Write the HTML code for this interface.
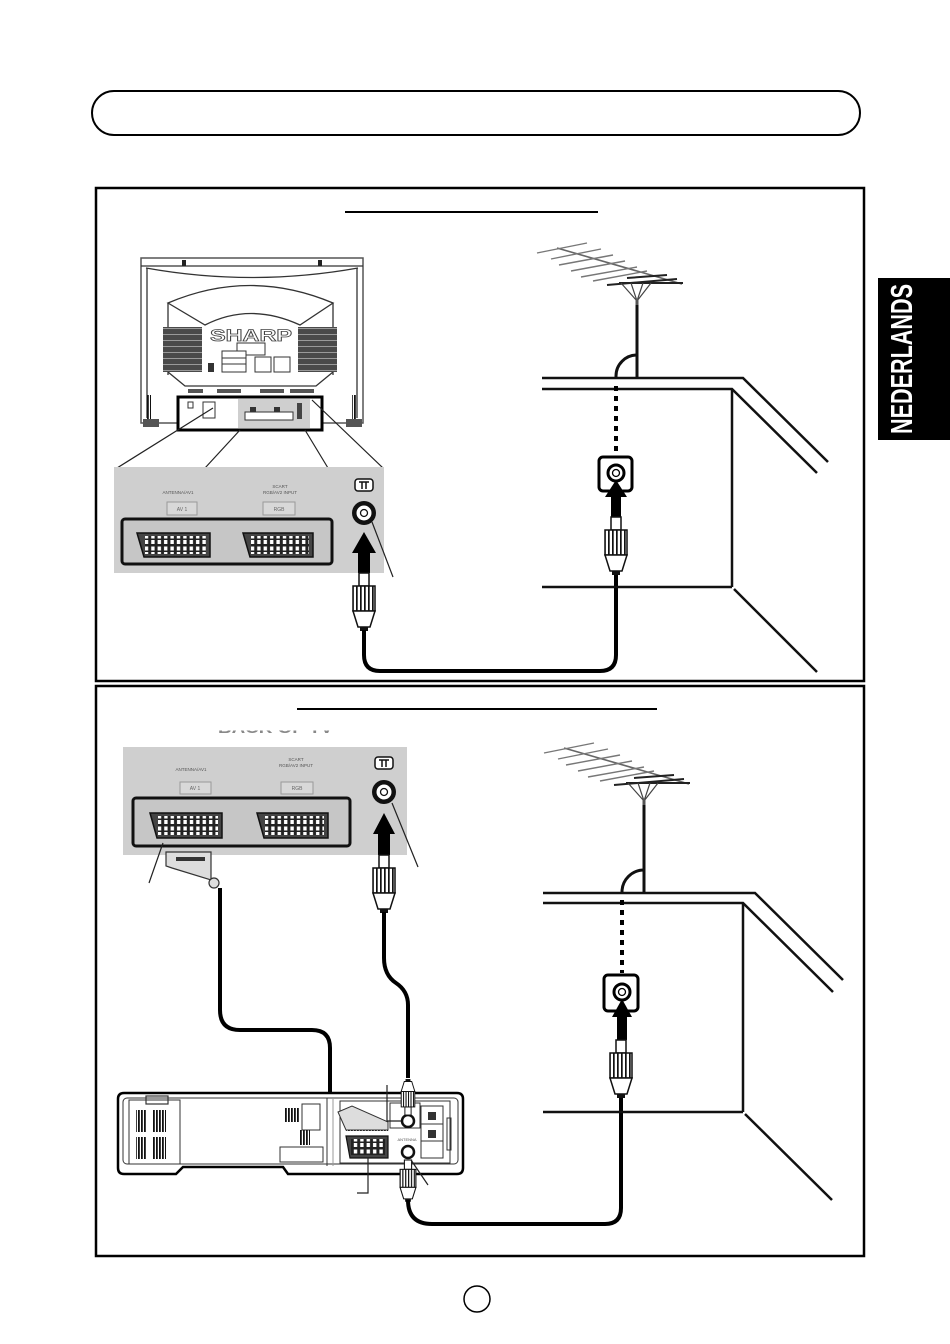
<!DOCTYPE html>
<html><head><meta charset="utf-8"><style>
html,body{margin:0;padding:0;background:#fff;}
svg{display:block;}
text{font-family:"Liberation Sans",sans-serif;}
</style></head><body>
<svg width="950" height="1344" viewBox="0 0 950 1344" xmlns="http://www.w3.org/2000/svg">
<defs>
<pattern id="pins" x="0" y="0" width="6.4" height="12" patternUnits="userSpaceOnUse"><rect width="6.4" height="12" fill="#222"/><rect x="1.4" y="1.5" width="3.4" height="4" fill="#fff"/><rect x="1.4" y="7" width="3.4" height="4" fill="#fff"/></pattern>
<pattern id="knurl" width="4" height="4" patternUnits="userSpaceOnUse"><rect width="4" height="4" fill="#fff"/><rect width="1.7" height="4" fill="#111"/></pattern>
<pattern id="vbars" width="3" height="4" patternUnits="userSpaceOnUse"><rect width="1.8" height="4" fill="#111"/></pattern>
<pattern id="spk" width="4" height="6" patternUnits="userSpaceOnUse"><rect width="4" height="6" fill="#4a4a4a"/><rect y="4" width="4" height="1" fill="#9a9a9a"/></pattern>
<g id="plugUp">
 <rect x="-5" y="0" width="10" height="13" fill="#fff" stroke="#111" stroke-width="1.5"/>
 <rect x="-11" y="13" width="22" height="25" fill="url(#knurl)" stroke="#111" stroke-width="1.5"/>
 <polygon points="-11,38 11,38 6,54 -6,54" fill="#fff" stroke="#111" stroke-width="1.5"/>
 <rect x="-4" y="54" width="8" height="4" fill="#111"/>
</g>
<g id="jack">
 <circle r="12" fill="#111"/><circle r="7.5" fill="#fff"/><circle r="3.5" fill="none" stroke="#111" stroke-width="1.3"/>
</g>
<g id="antIcon">
 <rect x="-9" y="-6" width="18" height="12" rx="3" fill="#fff" stroke="#111" stroke-width="1.5"/>
 <path d="M-5,-3 L5,-3 M-2,-3 L-2,4 M2,-3 L2,4" stroke="#111" stroke-width="1.5" fill="none"/>
</g>
<g id="ant">
 <line x1="-80" y1="-57" x2="45" y2="-21" stroke="#666" stroke-width="1.6"/>
 <g stroke="#777" stroke-width="1.4">
  <line x1="-100" y1="-52" x2="-50" y2="-62"/>
  <line x1="-86" y1="-46" x2="-36" y2="-56"/>
  <line x1="-78" y1="-40" x2="-24" y2="-50"/>
  <line x1="-66" y1="-34" x2="-12" y2="-44"/>
  <line x1="-56" y1="-28" x2="0" y2="-38"/>
  <line x1="-44" y1="-24" x2="10" y2="-34"/>
 </g>
 <g stroke="#222" stroke-width="2">
  <line x1="-30" y1="-20" x2="40" y2="-26"/>
  <line x1="-18" y1="-22" x2="46" y2="-22"/>
  <line x1="-10" y1="-27" x2="30" y2="-30"/>
 </g>
 <path d="M-16,-22 L0,-4 M14,-22 L0,-4 M-6,-22 L0,-4 M6,-22 L0,-4" stroke="#444" stroke-width="1.2" fill="none"/>
 <line x1="0" y1="-6" x2="0" y2="6" stroke="#555" stroke-width="3"/>
</g>
</defs>

<!-- header -->
<rect x="92" y="91" width="768" height="44" rx="22" ry="22" fill="none" stroke="#000" stroke-width="2"/>

<!-- language tab -->
<rect x="878" y="278" width="72" height="162" fill="#000"/>
<text transform="translate(912,359) rotate(-90) scale(1,1.45)" text-anchor="middle" font-size="21" font-weight="bold" fill="#fff" textLength="150" lengthAdjust="spacingAndGlyphs">NEDERLANDS</text>

<!-- panels -->
<rect x="96" y="188" width="768" height="493" fill="none" stroke="#000" stroke-width="2.5"/>
<rect x="96" y="686" width="768" height="570" fill="none" stroke="#000" stroke-width="2.5"/>
<line x1="345" y1="212" x2="598" y2="212" stroke="#000" stroke-width="2"/>
<line x1="297" y1="709" x2="657" y2="709" stroke="#000" stroke-width="2"/>
<defs><clipPath id="cutTxt"><rect x="200" y="730.5" width="160" height="3.5"/></clipPath></defs>
<text x="218" y="733" font-size="15" font-weight="bold" fill="#888" clip-path="url(#cutTxt)" textLength="115" lengthAdjust="spacingAndGlyphs">BACK OF TV</text>

<!-- page number circle -->
<circle cx="477" cy="1299" r="13" fill="none" stroke="#000" stroke-width="1.5"/>

<!-- ================= PANEL 1 : TV ================= -->
<g stroke="#333" fill="none" stroke-width="1.3">
 <rect x="141" y="258" width="222" height="165" fill="#fff" stroke="#555" stroke-width="1.5"/>
 <line x1="141" y1="266" x2="363" y2="266"/>
 <path d="M146,268 Q252,287 358,268"/>
 <line x1="147" y1="268" x2="147" y2="418"/>
 <line x1="357" y1="268" x2="357" y2="418"/>
 <path d="M168,303 Q250,268 333,303 L300,325 Q250,302 205,325 Z" fill="#fff"/>
 <line x1="168" y1="303" x2="168" y2="375"/>
 <line x1="333" y1="303" x2="333" y2="375"/>
 <path d="M168,372 L185,386 L316,386 L333,372"/>
</g>
<rect x="182" y="260" width="4" height="6" fill="#222"/>
<rect x="318" y="260" width="4" height="6" fill="#222"/>
<rect x="163" y="327" width="39" height="45" fill="url(#spk)"/>
<rect x="298" y="327" width="39" height="45" fill="url(#spk)"/>
<text x="251" y="341" text-anchor="middle" font-size="17" font-weight="bold" fill="#fff" stroke="#444" stroke-width="0.8" textLength="82" lengthAdjust="spacingAndGlyphs">SHARP</text>
<g fill="#fff" stroke="#333" stroke-width="1">
 <rect x="237" y="343" width="28" height="12"/>
 <rect x="222" y="351" width="24" height="21"/>
 <line x1="222" y1="358" x2="246" y2="358"/>
 <line x1="222" y1="364" x2="246" y2="364"/>
 <rect x="255" y="357" width="16" height="15"/>
 <rect x="274" y="357" width="16" height="15"/>
</g>
<rect x="208" y="363" width="6" height="9" fill="#333"/>
<g fill="#555">
 <rect x="188" y="389" width="15" height="4"/><rect x="217" y="389" width="24" height="4"/>
 <rect x="260" y="389" width="24" height="4"/><rect x="290" y="389" width="24" height="4"/>
</g>
<rect x="147" y="395" width="4" height="25" fill="url(#vbars)"/>
<rect x="352" y="395" width="4" height="25" fill="url(#vbars)"/>
<rect x="178" y="397" width="144" height="33" fill="#fff" stroke="#000" stroke-width="3"/>
<rect x="238" y="399" width="72" height="29" fill="#cfcfcf"/>
<rect x="245" y="412" width="48" height="8" fill="#fff" stroke="#333" stroke-width="1"/>
<rect x="250" y="407" width="6" height="5" fill="#333"/><rect x="274" y="407" width="6" height="5" fill="#333"/>
<rect x="297" y="403" width="5" height="16" fill="#444"/>
<rect x="203" y="402" width="12" height="16" fill="#fff" stroke="#333" stroke-width="1"/>
<rect x="188" y="402" width="5" height="6" fill="none" stroke="#333" stroke-width="1"/>
<rect x="143" y="419" width="16" height="8" fill="#555"/>
<rect x="346" y="419" width="16" height="8" fill="#555"/>
<!-- leader lines -->
<g stroke="#222" stroke-width="1.2">
 <line x1="117" y1="468" x2="213" y2="408"/>
 <line x1="205" y1="468" x2="240" y2="430"/>
 <line x1="328" y1="468" x2="305" y2="430"/>
 <line x1="383" y1="468" x2="312" y2="400"/>
</g>

<!-- connector panel 1 -->
<rect x="114" y="467" width="270" height="106" fill="#cfcfcf"/>
<text x="178" y="494" text-anchor="middle" font-size="4.5" fill="#555">ANTENNA/AV1</text>
<rect x="167" y="502" width="30" height="13" fill="#d8d8d8" stroke="#999" stroke-width="1"/>
<text x="182" y="511" text-anchor="middle" font-size="5" fill="#666">AV 1</text>
<text x="280" y="488" text-anchor="middle" font-size="4.5" fill="#555">SCART</text>
<text x="280" y="494" text-anchor="middle" font-size="4.5" fill="#555">RGB/AV2 INPUT</text>
<rect x="263" y="502" width="32" height="13" fill="#d8d8d8" stroke="#999" stroke-width="1"/>
<text x="279" y="511" text-anchor="middle" font-size="5" fill="#666">RGB</text>
<rect x="122" y="519" width="210" height="45" rx="3" fill="#c6c6c6" stroke="#111" stroke-width="3"/>
<g transform="translate(137,533)"><polygon points="0,0 73,0 73,24 7,24" fill="#444" stroke="#111" stroke-width="1.5"/><rect x="8" y="3" width="61" height="18" fill="url(#pins)"/></g>
<g transform="translate(243,533)"><polygon points="0,0 70,0 70,24 7,24" fill="#444" stroke="#111" stroke-width="1.5"/><rect x="8" y="3" width="58" height="18" fill="url(#pins)"/></g>
<use href="#antIcon" transform="translate(364,485)"/>
<use href="#jack" transform="translate(364,513)"/>
<line x1="372" y1="522" x2="393" y2="577" stroke="#222" stroke-width="1.2"/>
<polygon points="364,532 376,553 370,553 370,573 358,573 358,553 352,553" fill="#000"/>
<use href="#plugUp" transform="translate(364,573)"/>

<!-- cable 1 -->
<path d="M364,630 L364,655 Q364,671 380,671 L600,671 Q616,671 616,655 L616,575" fill="none" stroke="#000" stroke-width="4"/>

<!-- room 1 -->
<g stroke="#111" stroke-width="2.5" fill="none">
 <path d="M542,378 L743,378 L828,462"/>
 <path d="M542,389 L732,389 L817,473"/>
 <line x1="732" y1="389" x2="732" y2="587"/>
 <line x1="542" y1="587" x2="732" y2="587"/>
 <line x1="734" y1="589" x2="817" y2="672"/>
</g>
<use href="#ant" transform="translate(637,305)"/>
<line x1="637" y1="305" x2="637" y2="378" stroke="#111" stroke-width="3"/>
<path d="M637,355 A21,21 0 0 0 616,376 L616,378" fill="none" stroke="#111" stroke-width="3"/>
<line x1="616" y1="386" x2="616" y2="455" stroke="#000" stroke-width="4" stroke-dasharray="5,5"/>
<rect x="599" y="457" width="33" height="34" rx="4" fill="#fff" stroke="#000" stroke-width="3"/>
<circle cx="616" cy="473" r="8" fill="#fff" stroke="#000" stroke-width="3"/>
<circle cx="616" cy="473" r="3.5" fill="none" stroke="#000" stroke-width="1.3"/>
<polygon points="616,480 627,497 621,497 621,517 611,517 611,497 605,497" fill="#000"/>
<use href="#plugUp" transform="translate(616,517)"/>

<!-- ================= PANEL 2 ================= -->
<rect x="123" y="747" width="284" height="108" fill="#cfcfcf"/>
<text x="191" y="771" text-anchor="middle" font-size="4.5" fill="#555">ANTENNA/AV1</text>
<rect x="180" y="782" width="31" height="12" fill="#d8d8d8" stroke="#999" stroke-width="1"/>
<text x="195" y="790" text-anchor="middle" font-size="5" fill="#666">AV 1</text>
<text x="296" y="761" text-anchor="middle" font-size="4.5" fill="#555">SCART</text>
<text x="296" y="767" text-anchor="middle" font-size="4.5" fill="#555">RGB/AV2 INPUT</text>
<rect x="281" y="782" width="32" height="12" fill="#d8d8d8" stroke="#999" stroke-width="1"/>
<text x="297" y="790" text-anchor="middle" font-size="5" fill="#666">RGB</text>
<rect x="133" y="798" width="217" height="48" rx="3" fill="#c6c6c6" stroke="#111" stroke-width="3"/>
<g transform="translate(150,813)"><polygon points="0,0 72,0 72,25 7,25" fill="#444" stroke="#111" stroke-width="1.5"/><rect x="8" y="3" width="60" height="19" fill="url(#pins)"/></g>
<g transform="translate(257,813)"><polygon points="0,0 71,0 71,25 7,25" fill="#444" stroke="#111" stroke-width="1.5"/><rect x="8" y="3" width="59" height="19" fill="url(#pins)"/></g>
<use href="#antIcon" transform="translate(384,763)"/>
<use href="#jack" transform="translate(384,792)"/>
<line x1="392" y1="803" x2="418" y2="867" stroke="#222" stroke-width="1.2"/>
<line x1="163" y1="843" x2="149" y2="883" stroke="#222" stroke-width="1.2"/>
<polygon points="384,813 395,834 390,834 390,855 378,855 378,834 373,834" fill="#000"/>
<use href="#plugUp" transform="translate(384,855)"/>

<!-- scart plug + cable -->
<path d="M220,888 L220,1010 Q220,1030 240,1030 L312,1030 Q330,1030 330,1048 L330,1092 Q332,1108 350,1116" fill="none" stroke="#000" stroke-width="4"/>
<path d="M166,852 L211,852 L211,880 L172,868 L166,866 Z" fill="#ddd" stroke="#333" stroke-width="1.2"/>
<rect x="176" y="857" width="29" height="4" fill="#333"/>
<circle cx="214" cy="883" r="5" fill="#ddd" stroke="#333" stroke-width="1.2"/>

<!-- coax TV to VCR -->
<path d="M384,912 L384,958 Q384,975 396,983 Q408,991 408,1005 L408,1078" fill="none" stroke="#000" stroke-width="4"/>

<!-- VCR -->
<path d="M124,1093 L457,1093 Q463,1093 463,1099 L463,1168 Q463,1174 457,1174 L288,1174 L283,1167 L183,1167 L176,1174 L124,1174 Q118,1174 118,1168 L118,1099 Q118,1093 124,1093 Z" fill="#fff" stroke="#000" stroke-width="2.5"/>
<rect x="123" y="1098" width="335" height="66" rx="4" fill="none" stroke="#333" stroke-width="1"/>
<rect x="129" y="1100" width="51" height="64" fill="none" stroke="#333" stroke-width="1"/>
<rect x="146" y="1096" width="22" height="8" fill="none" stroke="#333" stroke-width="1.2"/>
<rect x="136" y="1110" width="11" height="22" fill="url(#vbars)"/>
<rect x="152" y="1110" width="14" height="22" fill="url(#vbars)"/>
<rect x="136" y="1137" width="11" height="22" fill="url(#vbars)"/>
<rect x="152" y="1137" width="14" height="22" fill="url(#vbars)"/>
<rect x="285" y="1108" width="15" height="14" fill="url(#vbars)"/>
<rect x="302" y="1104" width="18" height="26" fill="none" stroke="#333" stroke-width="1"/>
<rect x="300" y="1130" width="10" height="15" fill="url(#vbars)"/>
<rect x="280" y="1147" width="43" height="15" fill="none" stroke="#333" stroke-width="1"/>
<line x1="327" y1="1098" x2="327" y2="1166" stroke="#333" stroke-width="1"/>
<line x1="333" y1="1098" x2="333" y2="1166" stroke="#999" stroke-width="1"/>
<rect x="340" y="1101" width="110" height="62" fill="none" stroke="#333" stroke-width="1"/>
<rect x="390" y="1103" width="30" height="25" fill="none" stroke="#333" stroke-width="1"/>
<rect x="421" y="1106" width="22" height="52" fill="none" stroke="#333" stroke-width="1"/>
<line x1="421" y1="1124" x2="443" y2="1124" stroke="#333"/>
<line x1="421" y1="1141" x2="443" y2="1141" stroke="#333"/>
<rect x="428" y="1112" width="8" height="8" fill="#333"/>
<rect x="428" y="1130" width="8" height="8" fill="#333"/>
<rect x="447" y="1118" width="4" height="32" fill="none" stroke="#333" stroke-width="1"/>
<rect x="346" y="1124" width="42" height="7" fill="url(#vbars)"/>
<g transform="translate(346,1136)"><polygon points="0,0 42,0 42,22 4,22" fill="#444" stroke="#111" stroke-width="1.2"/><rect x="5" y="3" width="34" height="16" fill="url(#pins)"/></g>
<path d="M338,1112 L352,1106 L388,1122 L388,1130 L346,1130 Z" fill="#ddd" stroke="#333" stroke-width="1"/>
<text x="407" y="1141" text-anchor="middle" font-size="4" fill="#555">ANTENNA</text>
<circle cx="408" cy="1121" r="6" fill="#fff" stroke="#111" stroke-width="2.5"/>
<circle cx="408" cy="1152" r="6" fill="#fff" stroke="#111" stroke-width="2.5"/>
<use href="#plugUp" transform="translate(408,1115) scale(0.62,-0.62)"/>
<use href="#plugUp" transform="translate(408,1160) scale(0.72)"/>
<g stroke="#222" stroke-width="1.2" fill="none">
 <path d="M387,1085 L387,1121 L401,1121"/>
 <path d="M368,1158 L368,1193 L357,1193"/>
 <line x1="411" y1="1160" x2="428" y2="1185"/>
</g>

<!-- cable VCR to wall -->
<path d="M408,1200 Q408,1224 432,1224 L605,1224 Q621,1224 621,1208 L621,1098" fill="none" stroke="#000" stroke-width="4"/>

<!-- room 2 -->
<g stroke="#111" stroke-width="2.5" fill="none">
 <path d="M543,893 L755,893 L843,980"/>
 <path d="M543,903 L743,903 L833,992"/>
 <line x1="743" y1="903" x2="743" y2="1112"/>
 <line x1="543" y1="1112" x2="743" y2="1112"/>
 <line x1="745" y1="1114" x2="832" y2="1200"/>
</g>
<use href="#ant" transform="translate(644,805)"/>
<line x1="644" y1="805" x2="644" y2="893" stroke="#111" stroke-width="3"/>
<path d="M644,870 A22,22 0 0 0 622,892" fill="none" stroke="#111" stroke-width="3"/>
<line x1="622" y1="900" x2="622" y2="973" stroke="#000" stroke-width="4" stroke-dasharray="5,5"/>
<rect x="604" y="975" width="34" height="36" rx="4" fill="#fff" stroke="#000" stroke-width="3"/>
<circle cx="622" cy="992" r="8" fill="#fff" stroke="#000" stroke-width="3"/>
<circle cx="622" cy="992" r="3.5" fill="none" stroke="#000" stroke-width="1.3"/>
<polygon points="622,999 632,1017 627,1017 627,1040 617,1040 617,1017 612,1017" fill="#000"/>
<use href="#plugUp" transform="translate(621,1040)"/>
</svg>
</body></html>
